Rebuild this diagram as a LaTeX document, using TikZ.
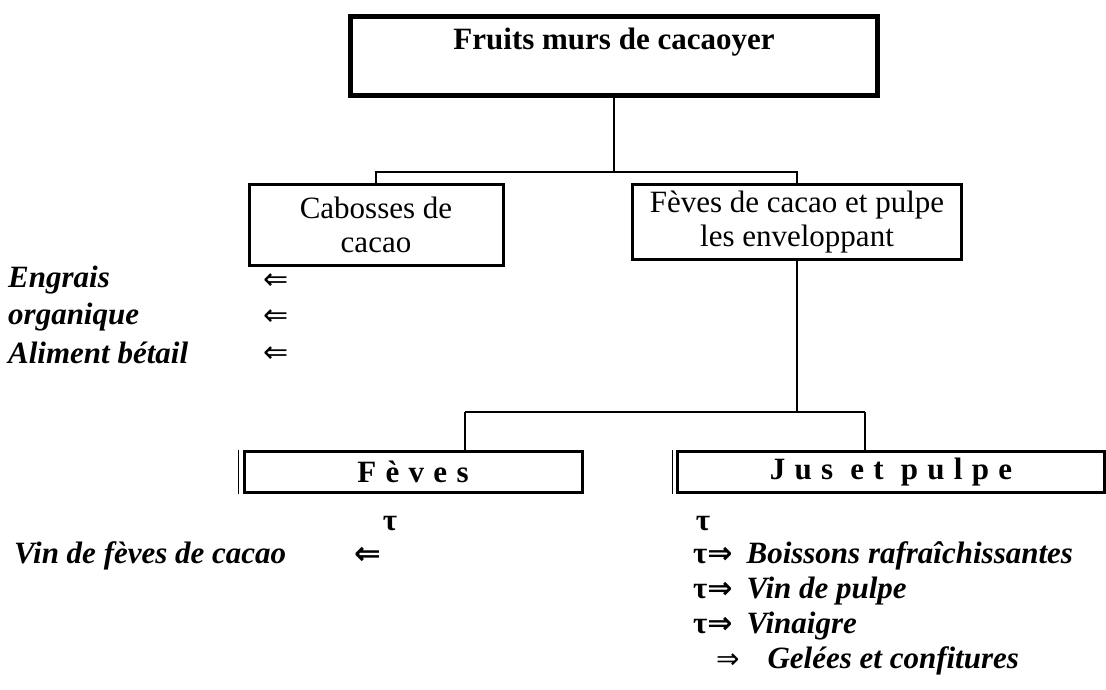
\documentclass[tikz,border=0pt]{standalone}
\usepackage{fontspec}
\setmainfont{Liberation Serif}
\newfontfamily\arrowfont{DejaVu Sans}
\usetikzlibrary{positioning}

\begin{document}
\begin{tikzpicture}[
    x=1pt, y=-1pt,
    bigbox/.style={draw, line width=5pt, minimum width=527pt, minimum height=79pt, align=center, font=\fontsize{31}{34}\selectfont\bfseries},
    box/.style={draw, line width=3pt, align=center, font=\fontsize{31}{34}\selectfont},
    lowbox/.style={draw, line width=3pt, minimum height=41pt, font=\fontsize{31}{34}\selectfont\bfseries\addfontfeatures{LetterSpace=30}},
    item/.style={anchor=west, inner sep=0pt, font=\fontsize{31}{34}\selectfont\bfseries\itshape},
    sym/.style={inner sep=0pt, font=\fontsize{31}{34}\selectfont\bfseries},
    thinarr/.style={inner sep=0pt, font=\fontsize{30}{34}\selectfont\arrowfont},
    conn/.style={line width=1.5pt}
  ]
    \useasboundingbox (0,0) rectangle (1106,689);

    \node[bigbox] (fruits) at (614,56) {Fruits murs de cacaoyer\\~};

    \node[box, minimum width=254pt, minimum height=81pt] (cabosses) at (376,225) {Cabosses de\\cacao};
    \node[box, minimum width=329pt, minimum height=75pt] (envelope) at (797,222) {Fèves de cacao et pulpe\\les enveloppant};

    \node[lowbox, minimum width=338pt] (beans) at (413,472) {Fèves};
    \node[lowbox, minimum width=427pt] (juice) at (891,472) {Jus et pulpe};
    % second thin line on the left side
    \draw[line width=1pt] ([xshift=-4pt]beans.north west) -- ([xshift=-4pt]beans.south west);
    \draw[line width=1pt] ([xshift=-4pt]juice.north west) -- ([xshift=-4pt]juice.south west);

    \coordinate (split1) at (614,172);
    \coordinate (jl) at (465,412);
    \coordinate (jr) at (865,412);

    \draw[conn] (fruits.south) -- (split1);
    \draw[conn] (split1) -| (cabosses.north);
    \draw[conn] (split1) -| (envelope.north);
    \draw[conn] (envelope.south) -- (envelope.south |- jl);
    \draw[conn] (jl) -- (jr);
    \draw[conn] (jl) -- (jl |- beans.north);
    \draw[conn] (jr) -- (jr |- juice.north);

    % by-products of the pods
    \node[item] (engrais) at (8,280) {Engrais};
    \node[item] (organique) at (8,317) {organique};
    \node[item] (betail) at (8,353) {Aliment bétail};
    \node[thinarr] (larr1) at (276,282) {⇐};
    \node[thinarr] (larr2) at (276,318) {⇐};
    \node[thinarr] (larr3) at (276,355) {⇐};

    % beans
    \node[sym] (tau1) at (390,524) {τ};
    \node[item] (vinfeves) at (14,556) {Vin de fèves de cacao};
    \node[sym, font=\fontsize{32}{34}\selectfont\bfseries\arrowfont] (larr4) at (368,556) {⇐};

    % juice and pulp
    \node[sym] (tau2) at (703,524) {τ};
    \node[item] (boissons) at (693,556) {{\upshape τ}{\arrowfont\fontsize{30}{34}\selectfont ⇒}\hspace{0.45em}Boissons rafraîchissantes};
    \node[item] (vinpulpe) at (693,591) {{\upshape τ}{\arrowfont\fontsize{30}{34}\selectfont ⇒}\hspace{0.45em}Vin de pulpe};
    \node[item] (vinaigre) at (693,626) {{\upshape τ}{\arrowfont\fontsize{30}{34}\selectfont ⇒}\hspace{0.45em}Vinaigre};
    \node[item] (gelees) at (716,661) {{\arrowfont\mdseries\upshape\fontsize{28}{34}\selectfont ⇒}\hspace{0.9em}Gelées et confitures};
  \end{tikzpicture}
\end{document}
